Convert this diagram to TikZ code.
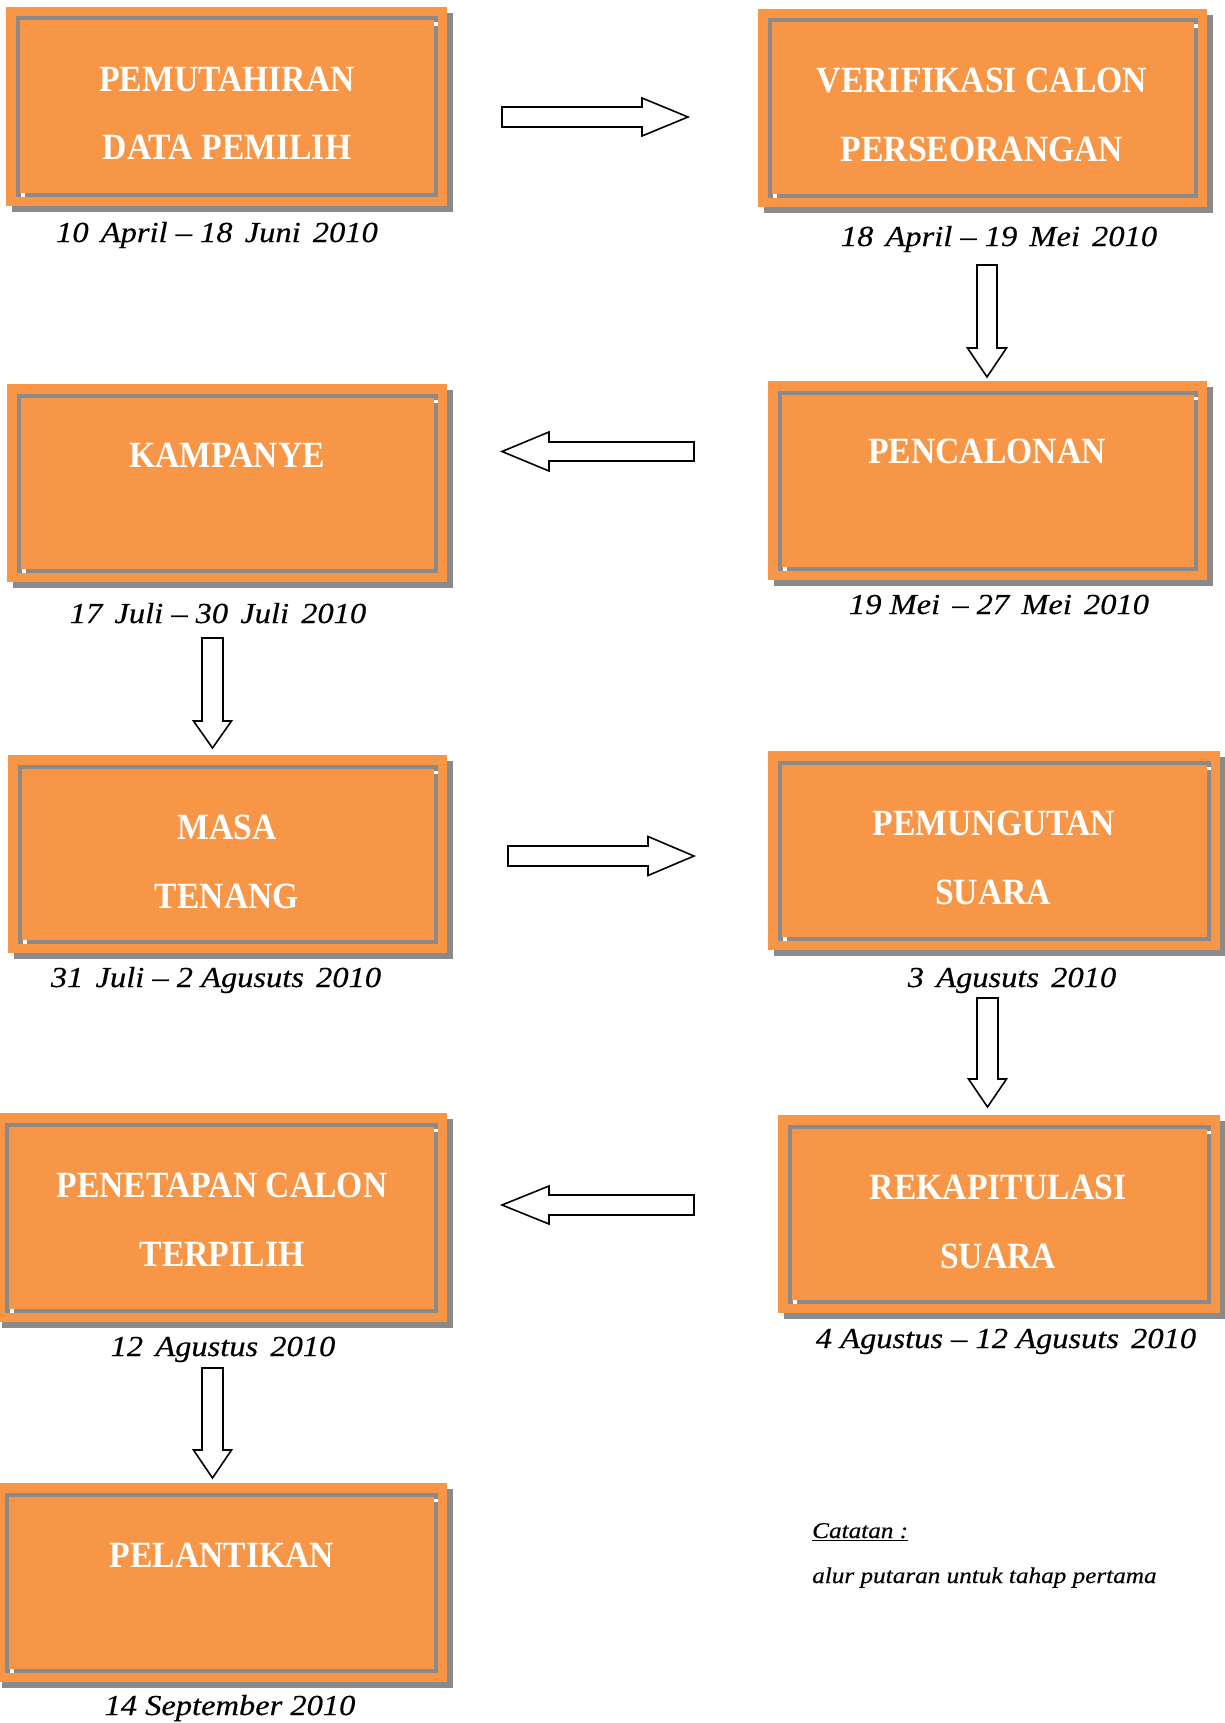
\documentclass[tikz,border=0pt]{standalone}
\usepackage{fontspec}
\setmainfont{Liberation Serif}
\newfontfamily\headfont{Liberation Serif}[FakeStretch=0.91]
\newfontfamily\datefont{Liberation Serif}[FakeStretch=1.12,FakeBold=0.4]
\newfontfamily\notefont{Liberation Serif}[FakeStretch=1.12,FakeBold=0.3]
\definecolor{orangec}{RGB}{247,150,70}
\definecolor{grayc}{RGB}{138,138,138}
\newcommand\ds{\hspace{0.42em}}
\tikzset{
  stagebox/.style={fill=orangec, inner sep=0pt, draw=none},
  innerc/.style={draw=grayc, line width=4pt},
  shadowc/.style={fill=grayc},
  head/.style={anchor=base, text=white, font=\headfont\bfseries\fontsize{37}{40}\selectfont, inner sep=0pt},
  datetxt/.style={anchor=base, text=black, font=\datefont\itshape\fontsize{29}{32}\selectfont, inner sep=0pt},
  note/.style={anchor=base west, text=black, font=\notefont\itshape\fontsize{22.5}{26}\selectfont, inner sep=0pt},
  blk/.style={draw=black, fill=white, line width=1.6pt, line join=miter}
}
\newcommand\stage[5]{%
  \fill[shadowc] ({#2+6},{#3+6}) rectangle ({#4+6},{#5+6});
  \node[stagebox, minimum width={(#4-#2)*1pt}, minimum height={(#5-#3)*1pt}] (#1) at ({(#2+#4)/2},{(#3+#5)/2}) {};
  \draw[innerc] ({#2+11.5},{#3+11.5}) rectangle ({#4-11},{#5-11});
  \fill[white] ({#4-13},{#3+15.5}) rectangle ({#4-9},{#3+19});
  \fill[white] ({#2+14.5},{#5-13}) rectangle ({#2+18.5},{#5-9});
}
% horizontal block arrow: tail x, tip x, y, shaft half, head half, head length (signed)
\newcommand\harr[6]{%
  \draw[blk] (#1,{#3-#4}) -- ({#2-(#6)},{#3-#4}) -- ({#2-(#6)},{#3-#5}) -- (#2,#3)
    -- ({#2-(#6)},{#3+#5}) -- ({#2-(#6)},{#3+#4}) -- (#1,{#3+#4}) -- cycle;}
% vertical block arrow: x, tail y, tip y, shaft half, head half, head length
\newcommand\varr[6]{%
  \draw[blk] ({#1-#4},#2) -- ({#1-#4},{#3-#6}) -- ({#1-#5},{#3-#6}) -- (#1,#3)
    -- ({#1+#5},{#3-#6}) -- ({#1+#4},{#3-#6}) -- ({#1+#4},#2) -- cycle;}
\begin{document}
\begin{tikzpicture}[x=1pt,y=-1pt]
\useasboundingbox[fill=white] (0,0) rectangle (1225,1723);
\clip (0,0) rectangle (1225,1723);

\stage{b1}{6}{7}{447}{206}
\stage{b2}{758}{9}{1207}{207}
\stage{b3}{7}{384}{447}{582}
\stage{b4}{768}{381}{1207}{580}
\stage{b5}{8}{755}{447}{953}
\stage{b6}{768}{751}{1220}{950}
\stage{b7}{-4.5}{1113}{447}{1322}
\stage{b8}{778}{1115}{1220}{1313}
\stage{b9}{-4.5}{1483}{447}{1682}

% headings
\node[head] (t1a) at (227,92) {PEMUTAHIRAN};
\node[head] (t1b) at (227,160) {DATA PEMILIH};
\node[head] (t2a) at (982,93) {VERIFIKASI CALON};
\node[head] (t2b) at (982,162) {PERSEORANGAN};
\node[head] (t3) at (227,467) {KAMPANYE};
\node[head] (t4) at (987,463) {PENCALONAN};
\node[head] (t5a) at (227,839) {MASA};
\node[head] (t5b) at (227,908) {TENANG};
\node[head] (t6a) at (994,835) {PEMUNGUTAN};
\node[head] (t6b) at (993,904) {SUARA};
\node[head] (t7a) at (222,1197) {PENETAPAN CALON};
\node[head] (t7b) at (222,1266) {TERPILIH};
\node[head] (t8a) at (998,1199) {REKAPITULASI};
\node[head] (t8b) at (998,1268) {SUARA};
\node[head] (t9) at (222,1567) {PELANTIKAN};

% dates
\node[datetxt] (d1) at (217,242) {10\ds April – 18\ds Juni\ds 2010};
\node[datetxt] (d2) at (999,246) {18\ds April – 19\ds Mei\ds 2010};
\node[datetxt] (d3) at (218,623) {17\ds Juli – 30\ds Juli\ds 2010};
\node[datetxt] (d4) at (999,614) {19 Mei\ds – 27\ds Mei\ds 2010};
\node[datetxt] (d5) at (216,987) {31\ds Juli – 2 Agusuts\ds 2010};
\node[datetxt] (d6) at (1012,987) {3\ds Agusuts\ds 2010};
\node[datetxt] (d7) at (223,1356) {12\ds Agustus\ds 2010};
\node[datetxt] (d8) at (1006,1348) {4 Agustus – 12 Agusuts\ds 2010};
\node[datetxt] (d9) at (230,1715) {14 September 2010};

% note
\node[note] (n1) at (812,1538) {\underline{Catatan :}};
\node[note] (n2) at (812,1583) {alur putaran untuk tahap pertama};

% block arrows
\harr{502}{688}{117}{10}{19}{46}
\varr{987}{265}{377}{10}{19.5}{29}
\harr{694}{502}{451.5}{9.5}{19.5}{-47}
\varr{212.5}{638}{748}{10.5}{19}{27}
\harr{508}{694}{856}{10}{19.5}{46}
\varr{987.5}{998}{1107}{10.5}{19}{28}
\harr{694}{502}{1205}{10}{19}{-47}
\varr{212.5}{1368}{1478}{10.5}{19}{28}
\end{tikzpicture}
\end{document}
